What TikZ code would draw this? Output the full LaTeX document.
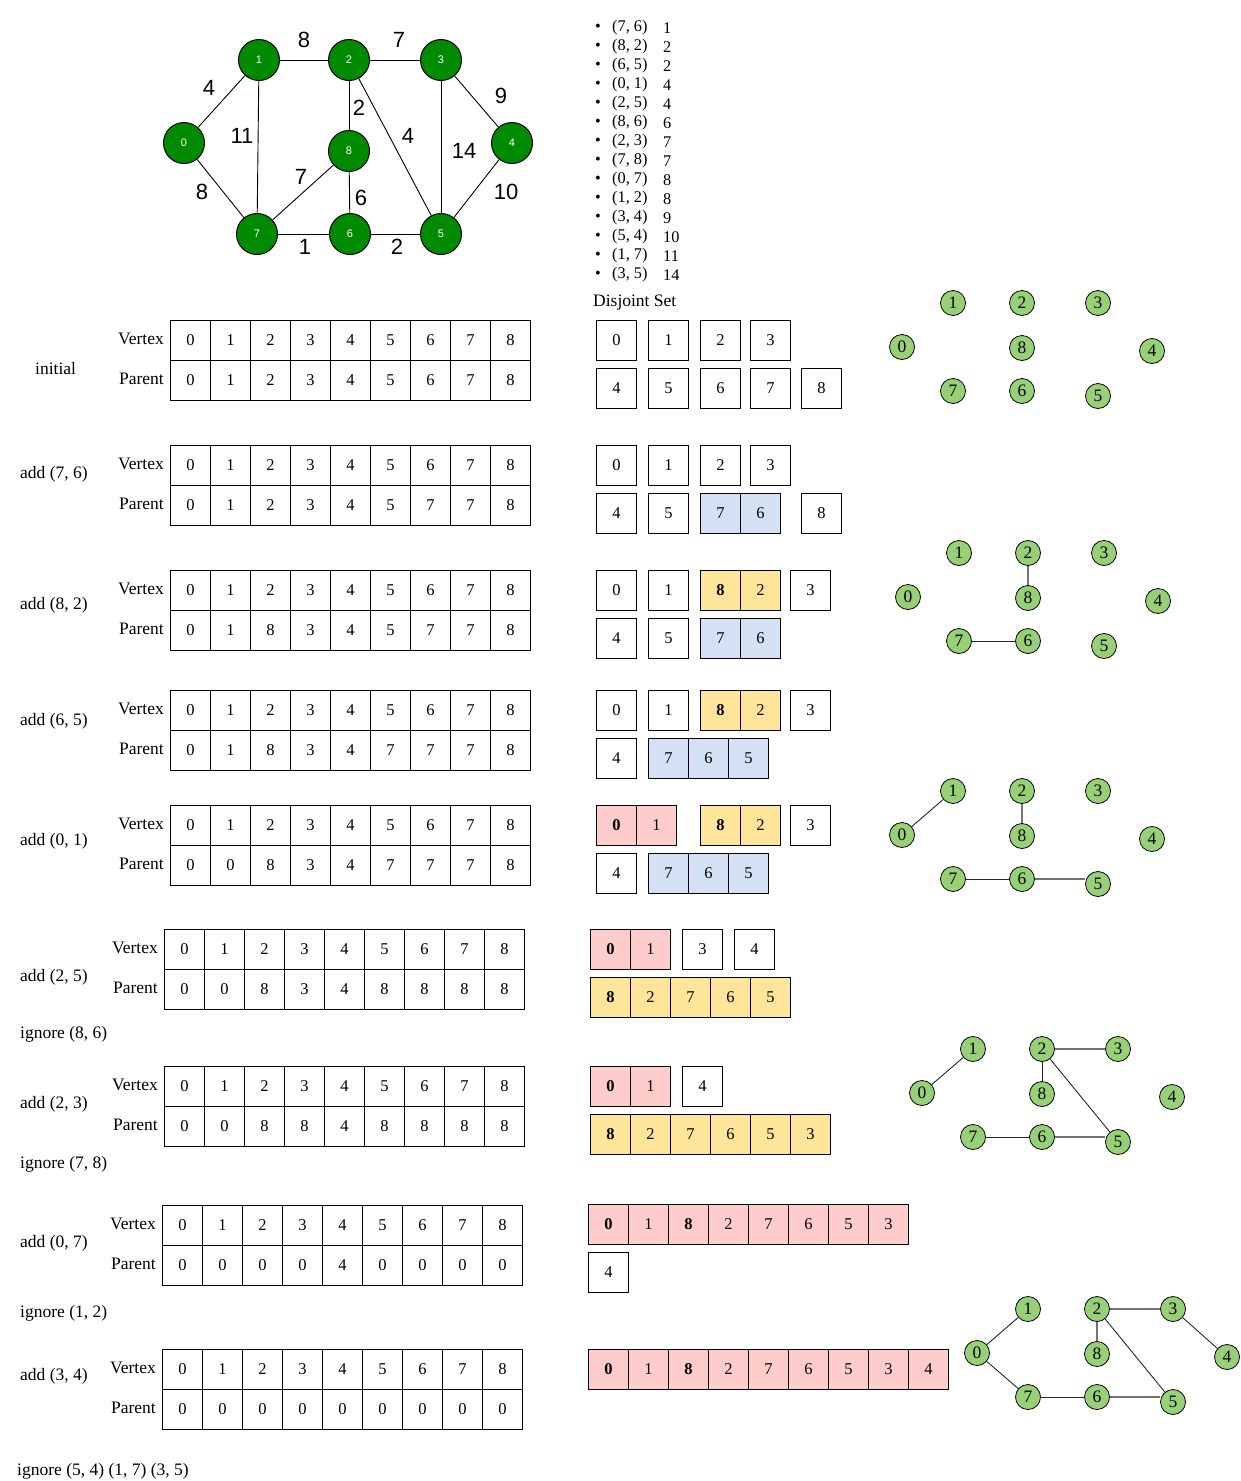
\documentclass[tikz,border=0pt]{standalone}
\usepackage{fontspec}
\setmainfont{Liberation Serif}
\newfontfamily\gsans{Liberation Sans}
\definecolor{gdark}{RGB}{0,138,0}
\definecolor{glight}{RGB}{151,208,119}
\definecolor{cpink}{RGB}{255,204,204}
\definecolor{cyel}{RGB}{255,229,153}
\definecolor{cblue}{RGB}{212,225,245}
\tikzset{
  big/.style={circle, draw=black, line width=1pt, fill=gdark, minimum size=41pt, inner sep=0pt, text=white, font=\gsans\fontsize{11}{12}\selectfont},
  wt/.style={font=\gsans\fontsize{22}{24}\selectfont, inner sep=0pt},
  bedge/.style={line width=0.9pt, black},
  sm/.style={circle, draw=black, line width=0.8pt, fill=glight, minimum size=25pt, inner sep=0pt, font=\fontsize{17.5}{18}\selectfont},
  sedge/.style={line width=0.9pt, black!85},
  gedge/.style={line width=1.2pt, black!55},
  cell/.style={draw, line width=0.9pt, minimum width=40pt, minimum height=40pt, inner sep=0pt, anchor=north west, font=\fontsize{16.5}{18}\selectfont},
  lbl/.style={font=\fontsize{17.5}{20}\selectfont, inner sep=0pt},
  elist/.style={font=\fontsize{16.3}{18}\selectfont, inner sep=0pt, anchor=west},
}
\newcommand\mytable[4]{%
  \foreach \v [count=\i from 0] in {0,1,2,3,4,5,6,7,8} {\node[cell] (#1v\i) at ({#2+40*\i},#3) {\v};}
  \foreach \v [count=\i from 0] in {#4} {\node[cell] (#1p\i) at ({#2+40*\i},{#3+40}) {\v};}
  \node[lbl, anchor=east] (#1vl) at ({#2-6},{#3+19}) {Vertex};
  \node[lbl, anchor=east] (#1pl) at ({#2-6},{#3+59}) {Parent};
}
\newcommand\dsg[5]{%
  \foreach \v [count=\i from 0] in {#5} {\node[cell, fill=#4] (#1c\i) at ({#2+40*\i},#3) {\v};}
}
\newcommand\sgraph[3]{%
  \begin{scope}[shift={(#2,#3)}]
    \node[sm] (#1n1) at (953,303) {1};
    \node[sm] (#1n2) at (1022,303) {2};
    \node[sm] (#1n3) at (1098,303) {3};
    \node[sm] (#1n0) at (902,347) {0};
    \node[sm] (#1n8) at (1022,348) {8};
    \node[sm] (#1n4) at (1152,351) {4};
    \node[sm] (#1n7) at (953,391) {7};
    \node[sm] (#1n6) at (1022,391) {6};
    \node[sm] (#1n5) at (1098,396) {5};
  \end{scope}
}
\begin{document}
\begin{tikzpicture}[x=1pt,y=-1pt]
\useasboundingbox (0,0) rectangle (1241,1481);
% main graph
\node[big] (n0) at (184,143) {0};
\node[big] (n1) at (259,60) {1};
\node[big] (n2) at (349,60) {2};
\node[big] (n3) at (441,60) {3};
\node[big] (n4) at (512,143) {4};
\node[big] (n5) at (441,234) {5};
\node[big] (n6) at (350,234) {6};
\node[big] (n7) at (257,234) {7};
\node[big] (n8) at (349,151) {8};
\draw[bedge] (n0) -- (n1);
\draw[bedge] (n0) -- (n7);
\draw[bedge] (n1) -- (n2);
\draw[bedge] (n1) -- (n7);
\draw[bedge] (n2) -- (n3);
\draw[bedge] (n2) -- (n8);
\draw[bedge] (n2) -- (n5);
\draw[bedge] (n3) -- (n4);
\draw[bedge] (n3) -- (n5);
\draw[bedge] (n4) -- (n5);
\draw[bedge] (n5) -- (n6);
\draw[bedge] (n6) -- (n7);
\draw[bedge] (n6) -- (n8);
\draw[bedge] (n7) -- (n8);
\node[wt] (w12) at (304,40) {8};
\node[wt] (w23) at (399,40) {7};
\node[wt] (w01) at (209,88) {4};
\node[wt] (w17) at (242,136) {11};
\node[wt] (w28) at (359,108) {2};
\node[wt] (w25) at (408,136) {4};
\node[wt] (w35) at (464,151) {14};
\node[wt] (w34) at (501,96) {9};
\node[wt] (w45) at (506,192) {10};
\node[wt] (w07) at (202,192) {8};
\node[wt] (w78) at (301,177) {7};
\node[wt] (w86) at (361,198) {6};
\node[wt] (w76) at (305,247) {1};
\node[wt] (w65) at (397,247) {2};
% edge list
\foreach \e/\w [count=\k from 0] in {{(7, 6)}/1,{(8, 2)}/2,{(6, 5)}/2,{(0, 1)}/4,{(2, 5)}/4,{(8, 6)}/6,{(2, 3)}/7,{(7, 8)}/7,{(0, 7)}/8,{(1, 2)}/8,{(3, 4)}/9,{(5, 4)}/10,{(1, 7)}/11,{(3, 5)}/14} {
  \node[elist] (eb\k) at (595,{28+19*\k}) {\textbullet};
  \node[elist] (ee\k) at (612,{28+19*\k}) {\e};
  \node[elist] (ew\k) at (663,{28+19*\k}) {\w};
}
\node[lbl, anchor=west] (dstitle) at (593,303) {Disjoint Set};
% tables
\mytable{ta}{170}{320}{0,1,2,3,4,5,6,7,8}
\mytable{tb}{170}{445}{0,1,2,3,4,5,7,7,8}
\mytable{tc}{170}{570}{0,1,8,3,4,5,7,7,8}
\mytable{td}{170}{690}{0,1,8,3,4,7,7,7,8}
\mytable{te}{170}{805}{0,0,8,3,4,7,7,7,8}
\mytable{tf}{164}{929}{0,0,8,3,4,8,8,8,8}
\mytable{tg}{164}{1066}{0,0,8,8,4,8,8,8,8}
\mytable{th}{162}{1205}{0,0,0,0,4,0,0,0,0}
\mytable{ti}{162}{1349}{0,0,0,0,0,0,0,0,0}
% row labels
\node[lbl, anchor=west] (la) at (35,369) {initial};
\node[lbl, anchor=west] (lb) at (20,474) {add (7, 6)};
\node[lbl, anchor=west] (lc) at (20,605) {add (8, 2)};
\node[lbl, anchor=west] (ld) at (20,721) {add (6, 5)};
\node[lbl, anchor=west] (le) at (20,841) {add (0, 1)};
\node[lbl, anchor=west] (lf) at (20,977) {add (2, 5)};
\node[lbl, anchor=west] (lf2) at (20,1034) {ignore (8, 6)};
\node[lbl, anchor=west] (lg) at (20,1104) {add (2, 3)};
\node[lbl, anchor=west] (lg2) at (20,1164) {ignore (7, 8)};
\node[lbl, anchor=west] (lh) at (20,1243) {add (0, 7)};
\node[lbl, anchor=west] (lh2) at (20,1313) {ignore (1, 2)};
\node[lbl, anchor=west] (li) at (20,1376) {add (3, 4)};
\node[lbl, anchor=west] (li2) at (17,1471) {ignore (5, 4) (1, 7) (3, 5)};
% disjoint sets
\dsg{da1}{596}{320}{white}{0}
\dsg{da2}{648}{320}{white}{1}
\dsg{da3}{700}{320}{white}{2}
\dsg{da4}{750}{320}{white}{3}
\dsg{da5}{596}{368}{white}{4}
\dsg{da6}{648}{368}{white}{5}
\dsg{da7}{700}{368}{white}{6}
\dsg{da8}{750}{368}{white}{7}
\dsg{da9}{801}{368}{white}{8}
%
\dsg{db1}{596}{445}{white}{0}
\dsg{db2}{648}{445}{white}{1}
\dsg{db3}{700}{445}{white}{2}
\dsg{db4}{750}{445}{white}{3}
\dsg{db5}{596}{493}{white}{4}
\dsg{db6}{648}{493}{white}{5}
\dsg{db7}{700}{493}{cblue}{7,6}
\dsg{db8}{801}{493}{white}{8}
%
\dsg{dc1}{596}{570}{white}{0}
\dsg{dc2}{648}{570}{white}{1}
\dsg{dc3}{700}{570}{cyel}{\textbf{8},2}
\dsg{dc4}{790}{570}{white}{3}
\dsg{dc5}{596}{618}{white}{4}
\dsg{dc6}{648}{618}{white}{5}
\dsg{dc7}{700}{618}{cblue}{7,6}
%
\dsg{dd1}{596}{690}{white}{0}
\dsg{dd2}{648}{690}{white}{1}
\dsg{dd3}{700}{690}{cyel}{\textbf{8},2}
\dsg{dd4}{790}{690}{white}{3}
\dsg{dd5}{596}{738}{white}{4}
\dsg{dd6}{648}{738}{cblue}{7,6,5}
%
\dsg{de1}{596}{805}{cpink}{\textbf{0},1}
\dsg{de3}{700}{805}{cyel}{\textbf{8},2}
\dsg{de4}{790}{805}{white}{3}
\dsg{de5}{596}{853}{white}{4}
\dsg{de6}{648}{853}{cblue}{7,6,5}
%
\dsg{df1}{590}{929}{cpink}{\textbf{0},1}
\dsg{df2}{682}{929}{white}{3}
\dsg{df3}{734}{929}{white}{4}
\dsg{df4}{590}{977}{cyel}{\textbf{8},2,7,6,5}
%
\dsg{dg1}{590}{1066}{cpink}{\textbf{0},1}
\dsg{dg2}{682}{1066}{white}{4}
\dsg{dg3}{590}{1114}{cyel}{\textbf{8},2,7,6,5,3}
%
\dsg{dh1}{588}{1204}{cpink}{\textbf{0},1,\textbf{8},2,7,6,5,3}
\dsg{dh2}{588}{1252}{white}{4}
%
\dsg{di1}{588}{1349}{cpink}{\textbf{0},1,\textbf{8},2,7,6,5,3,4}
% small graphs
\sgraph{ga}{0}{0}
\sgraph{gb}{6}{250}
\draw[gedge] (gbn2) -- (gbn8);
\draw[sedge] (gbn7) -- (gbn6);
\sgraph{gc}{0}{488}
\draw[sedge] (gcn0) -- (gcn1);
\draw[gedge] (gcn2) -- (gcn8);
\draw[sedge] (gcn7) -- (gcn6);
\draw[gedge] (gcn6.east) -- (gcn6.east -| gcn5.west);
\sgraph{gd}{20}{746}
\draw[sedge] (gdn0) -- (gdn1);
\draw[sedge] (gdn2) -- (gdn8);
\draw[gedge] (gdn2) -- (gdn3);
\draw[sedge] (gdn2) -- (gdn5);
\draw[sedge] (gdn7) -- (gdn6);
\draw[gedge] (gdn6.east) -- (gdn6.east -| gdn5.west);
\sgraph{ge}{75}{1006}
\draw[sedge] (gen0) -- (gen1);
\draw[sedge] (gen0) -- (gen7);
\draw[gedge] (gen2) -- (gen8);
\draw[gedge] (gen2) -- (gen3);
\draw[sedge] (gen2) -- (gen5);
\draw[sedge] (gen3) -- (gen4);
\draw[sedge] (gen7) -- (gen6);
\draw[gedge] (gen6.east) -- (gen6.east -| gen5.west);
\end{tikzpicture}
\end{document}
